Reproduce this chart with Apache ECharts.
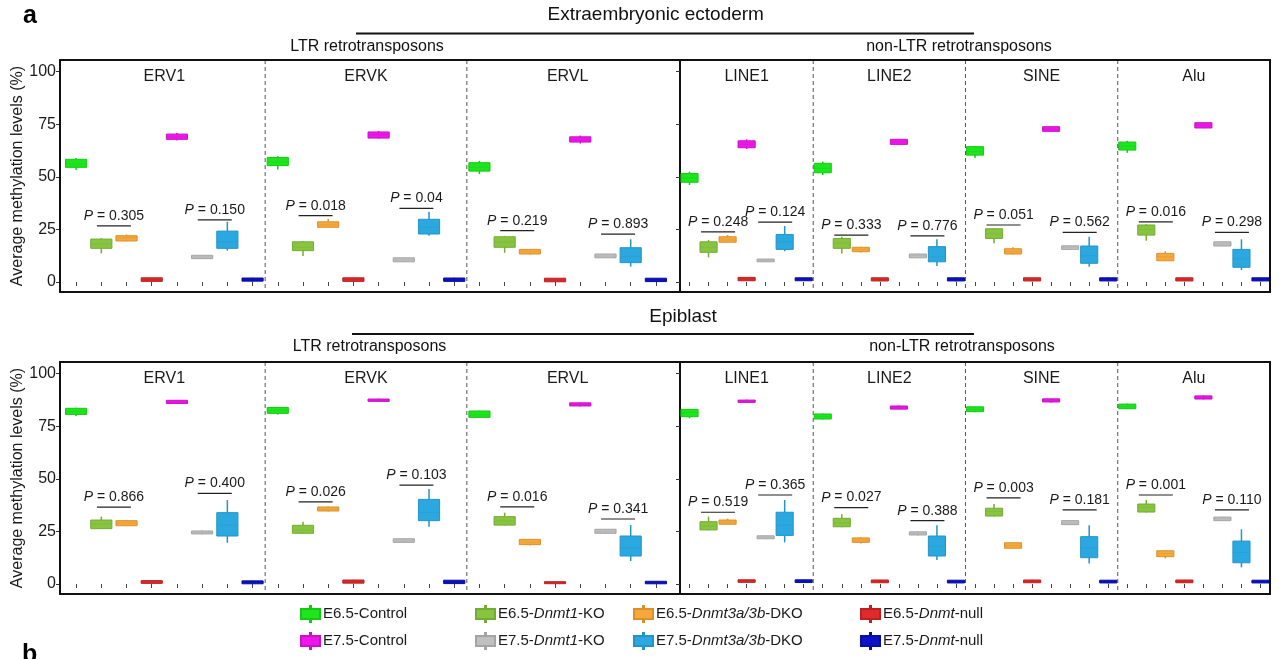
<!DOCTYPE html>
<html>
<head>
<meta charset="utf-8">
<script src="https://cdn.jsdelivr.net/npm/echarts@6/dist/echarts.min.js"></script>
<style>
  html, body { margin: 0; padding: 0; background: #fff; }
  #chart { width: 1279px; height: 659px; }
</style>
</head>
<body>
<div id="chart"></div>
<script>
// ---------- categories ----------
const facets = ['ERV1', 'ERVK', 'ERVL', 'LINE1', 'LINE2', 'SINE', 'Alu'];
const groupNames = [
  'E6.5-Control', 'E6.5-Dnmt1-KO', 'E6.5-Dnmt3a/3b-DKO', 'E6.5-Dnmt-null',
  'E7.5-Control', 'E7.5-Dnmt1-KO', 'E7.5-Dnmt3a/3b-DKO', 'E7.5-Dnmt-null'
];
const panelTitles = ['Extraembryonic ectoderm', 'Epiblast'];
const familyTitles = ['LTR retrotransposons', 'non-LTR retrotransposons'];
const yTicks = [0, 25, 50, 75, 100];
const yAxisTitle = 'Average methylation levels (%)';

// ---------- Extraembryonic ectoderm: [min, q1, median, q3, max] per facet ----------
const exeE65Control = [[53.2,54.5,56,58.3,58.9],[53.5,55.3,57,59.2,59.8],[51.3,52.7,54.5,56.7,57.6],[46.1,47.4,49.5,51.6,52.4],[50.8,51.9,54,56.4,57.2],[58.9,60.3,62,64.3,64.6],[61.4,62.7,64.5,66.5,67.1]];
const exeE65Dnmt1KO = [[13.6,16.0,18,20.4,20.8],[12.4,14.9,16.5,19.1,19.5],[13.9,16.5,19,21.5,21.9],[11.7,14.1,16.5,19.1,20],[13.6,16,18.5,20.7,21.5],[18.4,20.7,23,25.3,25.6],[19.6,22.3,25,27.1,27.5]];
const exeE65Dnmt3abDKO = [[19.3,19.5,21,22,22.6],[25.8,26.0,27.2,28.6,29.9],[13.1,13.3,14.5,15.5,15.7],[18.7,18.9,20,21.5,22.3],[14.0,14.4,15.5,16.5,16.7],[13.1,13.3,14.5,15.8,16.5],[9.9,10.1,12,13.6,14.6]];
const exeE65DnmtNull = [[0.2,0.3,1.1,2.0,2.1],[0.2,0.3,1.2,2.0,2.1],[0.0,0.1,0.9,1.8,1.9],[0.5,0.6,1.4,2.2,2.3],[0.4,0.5,1.2,2.0,2.1],[0.4,0.5,1.2,2.0,2.1],[0.4,0.5,1.2,2.0,2.1]];
const exeE75Control = [[67.3,67.8,69,70.3,70.8],[68.2,68.4,70,71.3,71.8],[65.8,66.5,67.5,69,69.6],[63.2,63.8,65.5,67.1,67.8],[65.2,65.4,66.5,67.8,68],[71.5,71.6,72.7,73.8,73.9],[73.1,73.2,74.5,75.7,75.8]];
const exeE75Dnmt1KO = [[11.0,11.1,12,12.7,12.8],[9.5,9.6,10.5,11.5,11.6],[11.4,11.5,12.3,13.3,13.4],[9.5,9.6,10.3,10.9,11],[11.4,11.5,12.5,13.3,13.4],[15.4,15.5,16.5,17.2,17.3],[17.0,17.1,18,19.1,19.2]];
const exeE75Dnmt3abDKO = [[14.9,16.0,19,24.2,28.6],[22.0,22.8,26,29.8,33.4],[7.3,9.2,12,16.3,20.3],[14.6,15.5,19,22.6,26.6],[7.6,9.6,12,16.8,20.3],[7.3,8.9,12.5,17.1,21.5],[5.7,7.0,11,15.5,20.3]];
const exeE75DnmtNull = [[0.2,0.4,1.1,1.9,2.0],[0.2,0.3,1.0,1.9,2.0],[0.1,0.2,1.0,1.8,1.9],[0.5,0.6,1.3,2.0,2.1],[0.4,0.5,1.2,2.0,2.1],[0.4,0.5,1.2,2.0,2.1],[0.4,0.5,1.2,2.0,2.1]];
// P values and bracket heights (E6.5 KO vs DKO, E7.5 KO vs DKO)
const exeP65 = ['0.305', '0.018', '0.219', '0.248', '0.333', '0.051', '0.016'];
const exeP75 = ['0.150', '0.04', '0.893', '0.124', '0.776', '0.562', '0.298'];
const exeBar65 = [26.7, 31.5, 24.4, 23.8, 22.3, 27.1, 28.6];
const exeBar75 = [29.5, 35.0, 22.8, 28.5, 21.9, 23.6, 23.6];

// ---------- Epiblast ----------
const epiE65Control = [[79.8,80.6,82,83.5,83.7],[80.5,81.1,82.5,83.9,84.1],[78.9,79.2,80.5,82.2,82.4],[78.7,79.5,81.5,83,83.2],[78.2,78.4,79.6,80.8,81],[81.6,81.9,83,84.2,84.4],[83.1,83.3,84.3,85.5,85.7]];
const epiE65Dnmt1KO = [[26.1,26.3,28.5,30.4,32],[23.9,24.1,25.5,27.9,29.6],[27.8,28,30,32,33.9],[25.5,25.7,27.5,29.6,32],[27,27.2,29,31.2,33.1],[32.1,32.3,34.5,36,38],[34,34.2,36.5,38,39.9]];
const epiE65Dnmt3abDKO = [[27.5,27.7,29,30.1,30.3],[34.5,34.7,35.5,36.6,36.8],[18.3,18.7,19.8,21.2,21.4],[28.2,28.4,29.5,30.4,31.0],[19.3,19.8,20.8,21.9,22.1],[16.8,17,18.3,19.6,19.8],[12.2,13,14.5,15.8,16]];
const epiE65DnmtNull = [[0.2,0.3,1.0,1.6,1.7],[0.3,0.4,1.1,1.9,2.0],[0.1,0.2,0.7,1.1,1.2],[0.7,0.8,1.4,2.0,2.1],[0.5,0.6,1.2,1.9,2.0],[0.5,0.6,1.2,1.9,2.0],[0.5,0.6,1.2,1.9,2.0]];
const epiE75Control = [[85.6,85.8,86.5,87.3,87.5],[86.6,86.8,87.3,87.9,88.1],[84.4,84.6,85.3,86.1,86.3],[86.1,86.3,86.8,87.4,87.6],[82.9,83.1,83.8,84.6,84.8],[86.3,86.5,87.3,88,88.2],[87.7,87.9,88.6,89.4,89.6]];
const epiE75Dnmt1KO = [[23.6,23.8,24.5,25.2,25.4],[19.6,19.8,20.5,21.5,21.7],[23.9,24.1,25,26,26.2],[21.3,21.5,22.2,22.9,23.1],[23.1,23.3,24,24.8,25],[28,28.2,29,30.1,30.3],[29.9,30.1,31,31.8,32]];
const epiE75Dnmt3abDKO = [[19.6,22.8,28,33.9,39.9],[27.2,30.1,34,40.2,45.1],[10.9,13.3,17,22.8,28],[19.8,23.1,28,34.1,39.9],[11.4,13.3,18,22.8,27.9],[9.8,12.5,17,22.5,27.9],[7.9,10.1,15,20.4,26]];
const epiE75DnmtNull = [[0.0,0.1,0.8,1.5,1.6],[0.1,0.2,0.9,1.8,1.9],[0.0,0.1,0.7,1.3,1.4],[0.6,0.7,1.3,2.0,2.1],[0.4,0.5,1.1,1.8,1.9],[0.4,0.5,1.1,1.8,1.9],[0.4,0.5,1.1,1.8,1.9]];
const epiP65 = ['0.866', '0.026', '0.016', '0.519', '0.027', '0.003', '0.001'];
const epiP75 = ['0.400', '0.103', '0.341', '0.365', '0.388', '0.181', '0.110'];
const epiBar65 = [36.5, 39.0, 36.7, 34.1, 36.3, 40.9, 42.3];
const epiBar75 = [43.1, 47.0, 30.9, 42.3, 30.1, 35.2, 35.2];

// ---------- assembled per panel ----------
const panels = [
  { stats: [exeE65Control, exeE65Dnmt1KO, exeE65Dnmt3abDKO, exeE65DnmtNull, exeE75Control, exeE75Dnmt1KO, exeE75Dnmt3abDKO, exeE75DnmtNull],
    p65: exeP65, p75: exeP75, bar65: exeBar65, bar75: exeBar75 },
  { stats: [epiE65Control, epiE65Dnmt1KO, epiE65Dnmt3abDKO, epiE65DnmtNull, epiE75Control, epiE75Dnmt1KO, epiE75Dnmt3abDKO, epiE75DnmtNull],
    p65: epiP65, p75: epiP75, bar65: epiBar65, bar75: epiBar75 }
];

// ---------- styling / layout ----------
const FONT = 'Liberation Sans, Arial, Helvetica, sans-serif';
const fills   = ['#1de61d', '#88c440', '#f5a93c', '#de2a2a', '#ee16ea', '#c0c0c0', '#2ba8e0', '#0c12c8'];
const strokes = ['#14c814', '#74ab32', '#dd9028', '#be2020', '#cc10c8', '#a4a4a4', '#2394c8', '#090e9e'];
const Y_MIN = -4.75, Y_MAX = 105.5;
const PANEL_TOP = [60, 362];
const PANEL_H = 232;
const FRAME_L = 60, FRAME_R = 1270;
const SIDE_GRID = [{ left: 63.5, width: 605 }, { left: 680, width: 590 }];
const BOX_RATIO = [0.84, 0.9];
const facetSide = [0, 0, 0, 1, 1, 1, 1];
// slot of each group inside a facet; LINE1 shares one slot between the two null/control columns
const slotOf = f => (facets[f] === 'LINE1' ? [0, 1, 2, 3, 3, 4, 5, 6] : [0, 1, 2, 3, 4, 5, 6, 7]);
const spanOf = f => Math.max(...slotOf(f)) + 1;

// category offset of each facet within its grid
const facetOffset = [];
const sideCount = [0, 0];
facets.forEach((name, f) => {
  const s = facetSide[f];
  facetOffset[f] = sideCount[s];
  sideCount[s] += spanOf(f);
});

const grids = [], xAxes = [], yAxes = [], series = [];

panels.forEach((panel, p) => {
  [0, 1].forEach(s => {
    const gi = p * 2 + s;
    grids.push({ left: SIDE_GRID[s].left, width: SIDE_GRID[s].width, top: PANEL_TOP[p], height: PANEL_H, containLabel: false });
    xAxes.push({
      type: 'category', gridIndex: gi, boundaryGap: true,
      data: Array.from({ length: sideCount[s] }, (_, i) => String(i)),
      axisLine: { show: false },
      axisTick: { show: true, alignWithLabel: true, interval: 0, length: 4, lineStyle: { color: '#444', width: 1 } },
      axisLabel: { show: false }, splitLine: { show: false }
    });
    yAxes.push({
      type: 'value', gridIndex: gi, min: Y_MIN, max: Y_MAX,
      offset: s === 0 ? 3.5 : 0,
      name: s === 0 ? yAxisTitle : '',
      nameLocation: 'middle', nameRotate: 90, nameGap: 34,
      nameTextStyle: { fontFamily: FONT, fontSize: 16, color: '#1a1a1a' },
      axisLine: { show: s === 1, lineStyle: { color: '#111', width: 2 } },
      axisTick: { show: true, length: 4, customValues: yTicks, lineStyle: { color: '#333' } },
      axisLabel: { show: s === 0, customValues: yTicks, fontFamily: FONT, fontSize: 16, color: '#1a1a1a', margin: 4 },
      splitLine: { show: false }
    });

    const sideFacets = facets.map((_, f) => f).filter(f => facetSide[f] === s);

    // boxes: one series per group
    groupNames.forEach((gname, g) => {
      const data = sideFacets.map(f => [facetOffset[f] + slotOf(f)[g], ...panel.stats[g][f]]);
      series.push({
        type: 'custom', name: gname, xAxisIndex: gi, yAxisIndex: gi,
        itemStyle: { color: fills[g], borderColor: strokes[g], borderWidth: 1 },
        encode: { x: 0, y: [1, 2, 3, 4, 5] },
        silent: true,
        renderItem: (params, api) => {
          const x = api.value(0);
          const bw = api.size([1, 0])[0] * BOX_RATIO[s];
          const cx = api.coord([x, 0])[0];
          const y = v => api.coord([x, api.value(v)])[1];
          const ymn = y(1), yq1 = y(2), ymd = y(3), yq3 = y(4), ymx = y(5);
          const lineStyle = { stroke: strokes[g], lineWidth: 1.5 };
          return {
            type: 'group',
            children: [
              { type: 'line', shape: { x1: cx, y1: ymx, x2: cx, y2: yq3 }, style: lineStyle },
              { type: 'line', shape: { x1: cx, y1: yq1, x2: cx, y2: ymn }, style: lineStyle },
              { type: 'rect', shape: { x: cx - bw / 2, y: yq3, width: bw, height: Math.max(yq1 - yq3, 2) },
                style: { fill: fills[g], stroke: strokes[g], lineWidth: 1 } },
              { type: 'line', shape: { x1: cx - bw / 2, y1: ymd, x2: cx + bw / 2, y2: ymd },
                style: { stroke: strokes[g], lineWidth: 1, opacity: 0.35 } }
            ]
          };
        },
        data
      });
    });

    // P value brackets
    const bracketData = [], bracketText = [];
    sideFacets.forEach(f => {
      const sl = slotOf(f), o = facetOffset[f];
      bracketData.push([o + sl[1], o + sl[2], panel.bar65[f]]);
      bracketText.push(panel.p65[f]);
      bracketData.push([o + sl[5], o + sl[6], panel.bar75[f]]);
      bracketText.push(panel.p75[f]);
    });
    series.push({
      type: 'custom', name: 'brackets', xAxisIndex: gi, yAxisIndex: gi, silent: true,
      encode: { x: [0, 1], y: 2 },
      renderItem: (params, api) => {
        const a = api.coord([api.value(0), api.value(2)]);
        const b = api.coord([api.value(1), api.value(2)]);
        const cx = (a[0] + b[0]) / 2, yy = a[1];
        return {
          type: 'group',
          children: [
            { type: 'line', shape: { x1: cx - 17, y1: yy, x2: cx + 17, y2: yy }, style: { stroke: '#222', lineWidth: 1.2 } },
            { type: 'text', x: cx, y: yy - 3,
              style: { text: '{it|P} = ' + bracketText[params.dataIndex], x: 0, y: 0,
                align: 'center', verticalAlign: 'bottom', textAlign: 'center', textVerticalAlign: 'bottom',
                fontFamily: FONT, fontSize: 14, fill: '#1a1a1a',
                rich: { it: { fontStyle: 'italic', fontFamily: FONT, fontSize: 14, fill: '#1a1a1a' } } } }
          ]
        };
      },
      data: bracketData
    });

    // facet titles and dashed separators
    const facetData = sideFacets.map(f => [facetOffset[f], facetOffset[f] + spanOf(f) - 1]);
    series.push({
      type: 'custom', name: 'facets', xAxisIndex: gi, yAxisIndex: gi, silent: true,
      encode: { x: [0, 1] },
      renderItem: (params, api) => {
        const f = sideFacets[params.dataIndex];
        const bw = api.size([1, 0])[0];
        const x0 = api.coord([api.value(0), 0])[0] - bw / 2;
        const x1 = api.coord([api.value(1), 0])[0] + bw / 2;
        const top = api.coord([api.value(0), Y_MAX])[1];
        const bottom = api.coord([api.value(0), Y_MIN])[1];
        const children = [
          { type: 'text', x: (x0 + x1) / 2, y: top + 17,
            style: { text: facets[f], x: 0, y: 0, align: 'center', verticalAlign: 'middle',
              textAlign: 'center', textVerticalAlign: 'middle', fontFamily: FONT, fontSize: 16, fill: '#1a1a1a' } }
        ];
        if (params.dataIndex < sideFacets.length - 1) {
          children.push({ type: 'line', shape: { x1: x1, y1: top, x2: x1, y2: bottom },
            style: { stroke: '#555', lineWidth: 1, lineDash: [4, 3] } });
        }
        return { type: 'group', children };
      },
      data: facetData
    });
  });
});

// ---------- headers, frames ----------
const graphics = [];
const headerY = [[15, 33.5, 46.7], [316.7, 334, 346.5]];
const headerX = [655.7, 683];
const familyX = [[367, 959], [369.5, 962]];
const ruleX = [[356, 974], [352, 974]];
panels.forEach((_, p) => {
  graphics.push({ type: 'rect', z: 100, shape: { x: FRAME_L, y: PANEL_TOP[p], width: FRAME_R - FRAME_L, height: PANEL_H },
    style: { fill: 'none', stroke: '#111', lineWidth: 2 } });
  graphics.push({ type: 'text', z: 100, x: headerX[p], y: headerY[p][0],
    style: { text: panelTitles[p], align: 'center', verticalAlign: 'middle', textAlign: 'center', textVerticalAlign: 'middle',
      font: '19px ' + FONT, fill: '#111' } });
  graphics.push({ type: 'line', z: 100, shape: { x1: ruleX[p][0], y1: headerY[p][1], x2: ruleX[p][1], y2: headerY[p][1] },
    style: { stroke: '#111', lineWidth: 2 } });
  familyTitles.forEach((t, k) => {
    graphics.push({ type: 'text', z: 100, x: familyX[p][k], y: headerY[p][2],
      style: { text: t, align: 'center', verticalAlign: 'middle', textAlign: 'center', textVerticalAlign: 'middle',
        font: '16px ' + FONT, fill: '#111' } });
  });
});
graphics.push({ type: 'text', z: 100, x: 23, y: 4,
  style: { text: 'a', font: 'bold 25px ' + FONT, fill: '#000', verticalAlign: 'top', textVerticalAlign: 'top' } });
graphics.push({ type: 'text', z: 100, x: 22, y: 643,
  style: { text: 'b', font: 'bold 25px ' + FONT, fill: '#000', verticalAlign: 'top', textVerticalAlign: 'top' } });

// ---------- legend: 2 rows x 4 columns, one legend component per entry ----------
const legendLeft = [300, 475, 633, 860];
const legendTop = [605, 632];
const legendFormatter = name => {
  const m = name.match(/^(E\d\.\d-)(Dnmt[^-]*)(-.*)$/);
  return m ? '{n|' + m[1] + '}{i|' + m[2] + '}{n|' + m[3] + '}' : '{n|' + name + '}';
};
const legends = groupNames.map((name, g) => ({
  orient: 'horizontal', left: legendLeft[g % 4], top: legendTop[Math.floor(g / 4)],
  padding: 0, itemWidth: 19, itemHeight: 16, itemGap: 0,
  icon: 'path://M0,3H19V13H0Z M9,0H10V3H9Z M9,13H10V16H9Z',
  selectedMode: false,
  data: [name],
  formatter: legendFormatter,
  textStyle: {
    fontFamily: FONT, fontSize: 15, color: '#1a1a1a', padding: [0, 0, 0, -2],
    rich: { n: { fontFamily: FONT, fontSize: 15, color: '#1a1a1a' },
            i: { fontFamily: FONT, fontSize: 15, color: '#1a1a1a', fontStyle: 'italic' } }
  }
}));

const chart = echarts.init(document.getElementById('chart'), null, { renderer: 'canvas' });
chart.setOption({
  animation: false,
  backgroundColor: '#fff',
  grid: grids,
  xAxis: xAxes,
  yAxis: yAxes,
  legend: legends,
  graphic: { elements: graphics },
  series
});
</script>
</body>
</html>
